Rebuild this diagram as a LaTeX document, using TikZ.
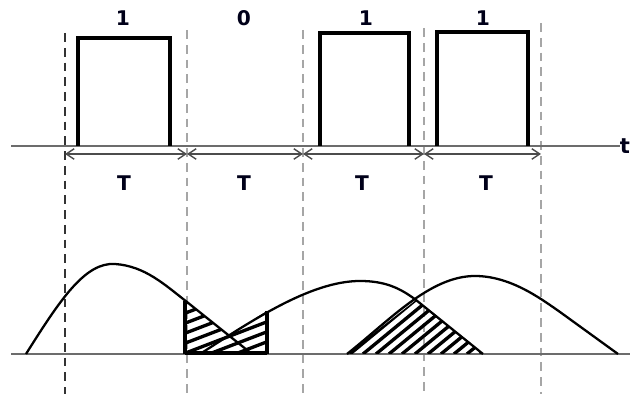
\documentclass[tikz,border=0pt]{standalone}
\usepackage{fontspec}
\setmainfont{DejaVu Sans}
\usetikzlibrary{arrows.meta}
\tikzset{
  px/.style={x=0.02cm,y=-0.02cm},
  axisline/.style={draw=gray!85!black,line width=0.9pt},
  guide/.style={draw=gray!70,line width=0.7pt,dash pattern=on 5pt off 3.4pt},
  pulse/.style={draw=black,line width=2pt,line join=miter},
  span/.style={draw=gray!60!black,line width=0.8pt,{Straight Barb[length=4.5pt,width=6pt]}-{Straight Barb[length=4.5pt,width=6pt]}},
  wave/.style={draw=black,line width=1.3pt},
  hatch/.style={draw=black,line width=1.9pt},
  lab/.style={font=\fontsize{11.5}{13}\selectfont\bfseries,text=black!90!blue,inner sep=0pt}
}
\begin{document}
\begin{tikzpicture}[px]
\path[use as bounding box] (0,0) rectangle (630,394);
% guide lines
\draw[guide,draw=gray!40!black] (65,33) -- (65,394);
\draw[guide] (187,30) -- (187,394);
\draw[guide] (303,30) -- (303,394);
\draw[guide] (424,28) -- (424,394);
\draw[guide] (541,23) -- (541,394);
% top axis
\coordinate (a0) at (11,146);
\node[lab,font=\fontsize{12}{13}\selectfont\bfseries] (tlab) at (625,146) {t};
\draw[axisline] (a0) -- (tlab.west);
% pulses
\draw[pulse] (78,146) -- (78,38) -- (170,38) -- (170,146);
\draw[pulse] (320,146) -- (320,33) -- (409,33) -- (409,146);
\draw[pulse] (437,146) -- (437,32) -- (528,32) -- (528,146);
% bit labels
\node[lab] (b1) at (123,18) {1};
\node[lab] (b2) at (244,18) {0};
\node[lab] (b3) at (366,18) {1};
\node[lab] (b4) at (483,18) {1};
% spans
\coordinate (s0) at (65,154);
\coordinate (s1) at (187,154);
\coordinate (s2) at (303,154);
\coordinate (s3) at (424,154);
\coordinate (s4) at (541,154);
\draw[span] (s0) -- (s1);
\draw[span] (s1) -- (s2);
\draw[span] (s2) -- (s3);
\draw[span] (s3) -- (s4);
\node[lab] (t1) at (124,183) {T};
\node[lab] (t2) at (244,183) {T};
\node[lab] (t3) at (362,183) {T};
\node[lab] (t4) at (486,183) {T};
% bottom axis
\coordinate (c0) at (11,354);
\coordinate (c1) at (630,354);
\draw[axisline] (c0) -- (c1);
% hatched region 1
\begin{scope}
\clip (185,301) -- (228,335) -- (267,311) -- (267,354) -- (185,354) -- cycle;
\foreach \y in {299,309,...,400} {
  \draw[hatch] (170,\y) -- (290,\y-46);
}
\end{scope}
\draw[hatch,line width=2pt] (185,301) -- (185,354);
\draw[hatch,line width=2pt] (267,311) -- (267,354);
\draw[hatch] (185,353) -- (267,353);
% hatched region 2
\begin{scope}
\clip (347,354) -- (416,300) -- (483,354) -- cycle;
\foreach \x in {350,363,...,490} {
  \draw[hatch] (\x,354) -- (\x+85,284);
}
\end{scope}
% waves
\draw[wave] (26,354) .. controls (60,300) and (85,262) .. (115,264)
  .. controls (145,266) and (165,285) .. (187,302) -- (252,354);
\draw[wave] (200,354) .. controls (250,322) and (310,281) .. (360,281)
  .. controls (385,281) and (400,288) .. (416,300) -- (483,354);
\draw[wave] (347,354) .. controls (390,320) and (430,276) .. (475,276)
  .. controls (510,276) and (540,298) .. (560,312) -- (618,354);
\end{tikzpicture}
\end{document}
